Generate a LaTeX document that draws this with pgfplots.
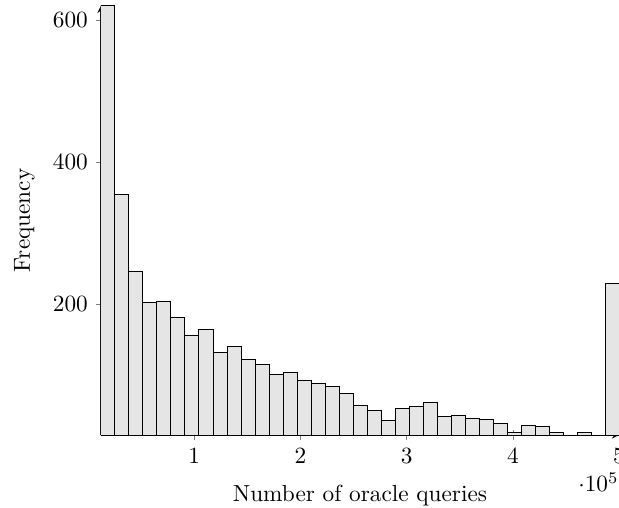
\documentclass[border=0pt]{standalone}
\usepackage{pgfplots}
\pgfplotsset{compat=1.18}
\begin{document}
\begin{tikzpicture}
\begin{axis}[
  scale only axis,
  width=222.7pt, height=184.6pt,
  axis lines=left,
  xmin=12100, xmax=500000,
  ymin=15, ymax=620,
  enlargelimits=false,
  xtick={100000,200000,300000,400000,500000},
  ytick={200,400,600},
  xlabel={Number of oracle queries},
  ylabel={Frequency},
  xlabel style={yshift=-2.5pt},
  ylabel style={yshift=1pt},
  every x tick scale label/.style={at={(1,0)}, anchor=north east, yshift=-15.9pt, inner sep=0pt},
]
\addplot[ybar interval, fill=gray!20, draw=black] coordinates {
(12100,620) (25287,354) (38473,246) (51660,202) (64846,204)
(78033,181) (91219,156) (104406,164) (117592,131) (130779,140)
(143965,121) (157152,114) (170338,100) (183525,103) (196711,92)
(209898,88) (223084,84) (236271,74) (249457,57) (262644,50)
(275830,36) (289017,53) (302203,55) (315390,61) (328576,41)
(341763,43) (354949,38) (368136,37) (381322,31) (394509,19)
(407695,28) (420882,27) (434068,19) (447255,0) (460441,19)
(473628,0) (486814,228) (500000,228)
};
\end{axis}
\pgfresetboundingbox
\path[use as bounding box] (current axis.south west) ++(-43.4pt,-31.3pt) rectangle ([shift={(0pt,2.45pt)}]current axis.north east);
\end{tikzpicture}
\end{document}
